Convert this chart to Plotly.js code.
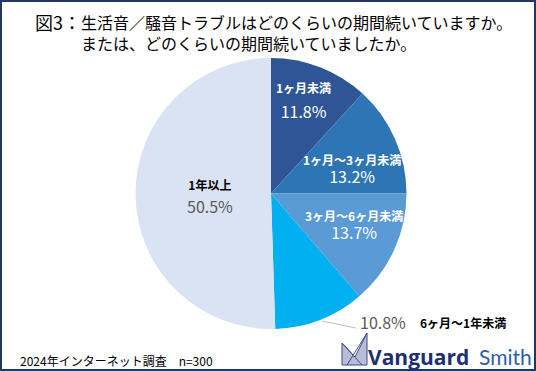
<!DOCTYPE html>
<html>
<head>
<meta charset="utf-8">
<script src="https://cdn.plot.ly/plotly-3.0.1.min.js"></script>
<style>
html,body{margin:0;padding:0;background:#fff;}
#chart{width:536px;height:371px;}
</style>
</head>
<body>
<div id="chart"></div>
<script>
// ---- data ----
var categories = ["1ヶ月未満", "1ヶ月～3ヶ月未満", "3ヶ月～6ヶ月未満", "6ヶ月～1年未満", "1年以上"];
var values = [11.8, 13.2, 13.7, 10.8, 50.5];
var sliceColors = ["#2F5597", "#2E75B6", "#5B9BD5", "#00B0F0", "#DAE3F3"];
var titleLine1 = "生活音／騒音トラブルはどのくらいの期間続いていますか。";
var titleLine2 = "または、どのくらいの期間続いていましたか。";
var titlePrefix = "図3：";
var footnote = "2024年インターネット調査　n=300";

var W = 536, H = 371;
function px(x){ return x / W; }
function py(y){ return 1 - y / H; }

var FONT = "Noto Sans CJK JP, Noto Sans, sans-serif";

// label placement: stacked labels (center of block, line gap base size) or split labels
var labelPos = [
  {stack:true, at:[303, 101], base:19, col:"#ffffff", pcol:"#ffffff"},
  {stack:true, at:[352, 169], base:14, col:"#ffffff", pcol:"#ffffff"},
  {stack:true, at:[354, 226], base:14, col:"#ffffff", pcol:"#ffffff"},
  {stack:false, c:[463, 322], p:[383, 322], col:"#000000", pcol:"#595959"},
  {stack:true, at:[210, 197], base:17.5, col:"#000000", pcol:"#595959"}
];

var annotations = [];
categories.forEach(function(cat, i){
  var lp = labelPos[i];
  var pct = values[i].toFixed(1) + "%";
  if (lp.stack) {
    annotations.push({
      xref:"paper", yref:"paper", x:px(lp.at[0]), y:py(lp.at[1]),
      xanchor:"center", yanchor:"middle", showarrow:false, align:"center",
      text:"<span style='font-size:12px;font-weight:bold;color:" + lp.col + "'>" + cat + "</span><br>" +
           "<span style='font-size:16px;color:" + lp.pcol + "'>" + pct + "</span>",
      font:{family:FONT, size:lp.base, color:lp.col}
    });
  } else {
    annotations.push({
      xref:"paper", yref:"paper", x:px(lp.c[0]), y:py(lp.c[1]),
      xanchor:"center", yanchor:"middle", showarrow:false,
      text:"<b>"+cat+"</b>", font:{family:FONT, size:12, color:lp.col}
    });
    annotations.push({
      xref:"paper", yref:"paper", x:px(lp.p[0]), y:py(lp.p[1]),
      xanchor:"center", yanchor:"middle", showarrow:false,
      text:pct, font:{family:FONT, size:16, color:lp.pcol}
    });
  }
});

// titles
annotations.push({xref:"paper", yref:"paper", x:px(33), y:py(22), xanchor:"left", yanchor:"middle",
  showarrow:false, text:titlePrefix, font:{family:FONT, size:18, color:"#000"}});
annotations.push({xref:"paper", yref:"paper", x:px(79), y:py(32.5), xanchor:"left", yanchor:"middle",
  showarrow:false, align:"left", text:titleLine1 + "<br>" + titleLine2, font:{family:FONT, size:16, color:"#000"}});
// footnote
annotations.push({xref:"paper", yref:"paper", x:px(18), y:py(360), xanchor:"left", yanchor:"middle",
  showarrow:false, text:footnote, font:{family:FONT, size:12, color:"#000"}});
// logo text
annotations.push({xref:"paper", yref:"paper", x:px(366), y:py(357), xanchor:"left", yanchor:"middle",
  showarrow:false, text:"<b>Vanguard</b>", font:{family:"Open Sans, Lato, sans-serif", size:21, color:"#1F2F75"}});
annotations.push({xref:"paper", yref:"paper", x:px(477), y:py(356), xanchor:"left", yanchor:"middle",
  showarrow:false, text:"Smith", font:{family:"Lato, Open Sans, sans-serif", size:21, color:"#2E5DAA"}});

function pth(pts){ return "M" + pts.map(function(p){return px(p[0])+","+py(p[1]);}).join(" L") + " Z"; }

var shapes = [
  // border
  {type:"rect", xref:"paper", yref:"paper", x0:px(1), x1:px(535), y0:py(370), y1:py(1),
   line:{color:"#1F3864", width:2}, fillcolor:"rgba(0,0,0,0)"},
  // leader line
  {type:"line", xref:"paper", yref:"paper", x0:px(322), y0:py(321), x1:px(356), y1:py(328),
   line:{color:"#BFBFBF", width:1}},
  // logo icon
  {type:"path", xref:"paper", yref:"paper", path:pth([[342,343],[355,357],[367,333],[367,365],[342,365]]),
   fillcolor:"#B9BCD9", line:{color:"#3F4A8A", width:1}},
  {type:"line", xref:"paper", yref:"paper", x0:px(342), y0:py(343), x1:px(362), y1:py(365), line:{color:"#3F4A8A", width:1}},
  {type:"line", xref:"paper", yref:"paper", x0:px(367), y0:py(333), x1:px(347), y1:py(365), line:{color:"#3F4A8A", width:1}}
];

var cx = 271, cy = 193.5, r = 135.5;
var trace = {
  type:"pie",
  labels:categories,
  values:values,
  sort:false,
  direction:"clockwise",
  rotation:0,
  textinfo:"none",
  hoverinfo:"label+percent",
  marker:{colors:sliceColors, line:{width:0}},
  domain:{x:[px(cx-r), px(cx+r)], y:[py(cy+r), py(cy-r)]},
  showlegend:false
};

var layout = {
  width:W, height:H,
  margin:{l:0, r:0, t:0, b:0},
  paper_bgcolor:"#ffffff",
  showlegend:false,
  annotations:annotations,
  shapes:shapes
};

Plotly.newPlot("chart", [trace], layout, {displayModeBar:false, staticPlot:true});
</script>
</body>
</html>
